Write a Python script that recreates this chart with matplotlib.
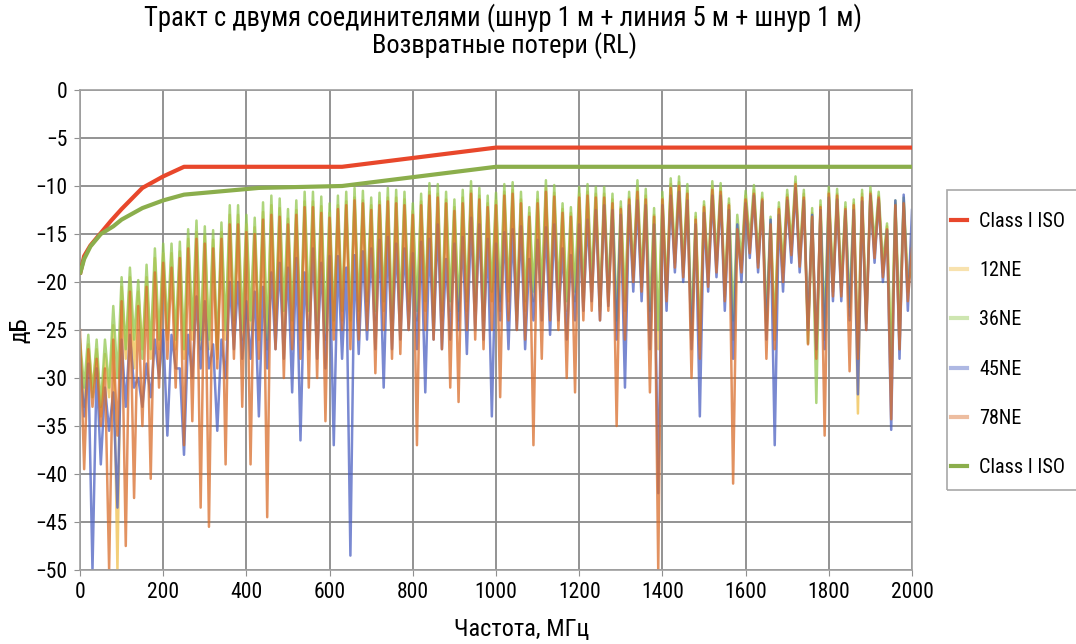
import numpy as np
import matplotlib
matplotlib.use("Agg")
import matplotlib.pyplot as plt
from matplotlib import font_manager
from matplotlib.patches import Rectangle

# condensed face if present, otherwise Roboto
names = {f.name for f in font_manager.fontManager.ttflist}
narrow = [n for n in ['Liberation Sans Narrow', 'Roboto Condensed', 'DejaVu Sans Condensed', 'Roboto'] if n in names]
plt.rcParams['font.family'] = narrow[:1] + ['DejaVu Sans']

# frequency sampling of the sweep, MHz
freq = np.arange(0, 2001, 10)

# Class I ISO limit lines (MHz, dB)
limit_red_f = [1, 10, 25, 50, 75, 100, 150, 200, 250, 630, 1000, 2000]
limit_red_db = [-19, -17.3, -16.2, -14.9, -13.6, -12.4, -10.2, -9.0, -8.0, -8.0, -6.0, -6.0]
limit_green_f = [1, 10, 25, 50, 80, 100, 150, 200, 250, 430, 630, 1000, 2000]
limit_green_db = [-19, -17.6, -16.3, -15.0, -14.2, -13.5, -12.3, -11.5, -10.9, -10.2, -10.0, -8.0, -8.0]

# return loss of the four pairs, dB (one value per 10 MHz)
rl_12ne = [
    -26.5, -33, -26.5, -31, -27, -34, -27.5, -32, -24.5, -50,
    -20.5, -28, -19.5, -29, -21, -27, -19.5, -28, -17.5, -27,
    -17, -26, -17, -27, -16.8, -28, -15.5, -26, -14.8, -27,
    -15.2, -27, -15.6, -28, -14.8, -26, -13, -25, -13, -26,
    -14, -25, -14.3, -26, -12.7, -27, -12, -25, -12.3, -25,
    -13.4, -25, -12.5, -26, -11.6, -24, -11.6, -25, -12.1, -26,
    -12.8, -25, -12, -24, -11.6, -25, -11.2, -24, -11.5, -23,
    -12, -24, -11.6, -23, -11.2, -25, -11.2, -24, -11.4, -23,
    -12.6, -24, -11.6, -23, -10.6, -25, -10.8, -24, -11.4, -23,
    -12.2, -24, -11.2, -23, -10.5, -23, -11, -24, -11.8, -22,
    -11.5, -23, -10.6, -22, -10.4, -24, -11.4, -23, -12.8, -22,
    -11.4, -22, -10.2, -23, -10.7, -22, -12.4, -23, -12.8, -22,
    -10.8, -22, -10.6, -21, -10.8, -23, -10.8, -22, -11.4, -25,
    -12.2, -23, -11.2, -19.5, -10.2, -20.5, -11, -25, -13, -27,
    -11.2, -21.5, -9.8, -18, -9.6, -19, -10.5, -26, -13.2, -27,
    -12, -19.8, -10, -18.5, -10.2, -21.5, -11.8, -26, -15.6, -18.5,
    -11, -16.5, -10.4, -18, -11.2, -25, -13.8, -26, -12.2, -19,
    -10.9, -16.8, -9.6, -18, -10.8, -25, -12.8, -27, -12, -26,
    -10.6, -21, -10.8, -21, -12.2, -23.5, -11.8, -33.7, -10.8, -24,
    -10.6, -17, -11, -19, -14.2, -29, -11.8, -27, -11.6, -21,
    -15,
]
rl_36ne = [
    -26, -31, -25.5, -32, -26, -33, -26, -31, -22.5, -30,
    -19.5, -27, -18.5, -26, -19.8, -28, -18.2, -27, -16.5, -26,
    -16, -25, -16, -26, -15.8, -27, -14.5, -25, -13.6, -26,
    -14.2, -26, -14.6, -27, -13.8, -25, -12, -24, -12, -25,
    -13, -24, -13.3, -25, -11.7, -26, -11, -24, -11.3, -23,
    -12.4, -24, -11.5, -25, -10.6, -23, -10.6, -24, -11.1, -25,
    -11.8, -24, -11, -23, -10.6, -24, -10.2, -23, -10.5, -22,
    -11.2, -23, -10.7, -22, -10.2, -24, -10.4, -23, -10.6, -22,
    -11.8, -23, -10.8, -22, -9.7, -24, -9.8, -23, -10.6, -22,
    -11.4, -23, -10.4, -22, -9.5, -22, -10.2, -23, -11, -21,
    -10.7, -22, -9.8, -21, -9.6, -23, -10.6, -22, -12.2, -21,
    -10.6, -21, -9.4, -22, -9.9, -21, -11.8, -22, -12.2, -21,
    -10.1, -21, -9.8, -20, -10.1, -22.5, -10.1, -21, -10.8, -24,
    -11.6, -22, -10.6, -18.8, -9.4, -19.5, -10.3, -23, -12.3, -25,
    -10.6, -20.8, -9.2, -17, -9, -18.4, -9.8, -25, -12.8, -26,
    -11.6, -19, -9.5, -17.7, -9.7, -20.8, -11.3, -24, -13, -17.7,
    -10.5, -15.6, -9.9, -17.4, -10.7, -24, -13.2, -25, -11.7, -18.4,
    -10.4, -16, -9, -17.4, -10.4, -26.4, -12.3, -32.6, -11.5, -25,
    -10.1, -20.1, -10.3, -20, -11.7, -22.6, -11.4, -27, -10.4, -24.3,
    -10.1, -16, -10.6, -18.1, -13.9, -28, -11.5, -24, -11.2, -20,
    -18.8,
]
rl_45ne = [
    -28, -34, -28.5, -50, -29, -39, -31, -35.5, -31.5, -43.5,
    -26, -33, -25.5, -31, -30, -33, -28.5, -32, -26, -30,
    -25, -36, -25.5, -29, -29, -38, -25.5, -30, -21.5, -29,
    -22, -29, -26.5, -35.5, -26, -30, -20, -27, -20, -28,
    -22, -28, -21, -34, -20.5, -29, -19, -27, -18, -28,
    -18.5, -31.5, -17.5, -36.5, -19, -27, -16.5, -28, -18, -29,
    -17.3, -37, -17.3, -28, -18.5, -48.5, -17.2, -27.5, -16.8, -26,
    -16.5, -27, -15.6, -31, -15.3, -27, -16, -26, -16.5, -25,
    -17, -27, -15.8, -31.5, -15.5, -26, -14, -27, -17.6, -26,
    -16, -25, -15.3, -27.5, -13.3, -25, -14, -26, -15.5, -34,
    -16, -24, -14.8, -27, -14.5, -25, -14.2, -27, -17.6, -24,
    -15.6, -24, -14.3, -25.5, -14, -24, -16.5, -26, -17.2, -24,
    -14, -23, -13.5, -22, -12.5, -24, -12, -22.5, -12.5, -26,
    -13, -31, -12, -21, -11.5, -22, -12, -27, -14, -42,
    -12, -23, -11, -19, -10.6, -20, -11.5, -27, -14, -34,
    -12.8, -21, -11, -19.5, -11, -23, -12.5, -28, -14, -20,
    -11.8, -17.5, -11, -19, -11.6, -26, -13.5, -37, -13, -21,
    -11.5, -18, -10.2, -19, -11.5, -25, -13, -27, -12.5, -27,
    -11.2, -22, -11.4, -22, -12.6, -24, -12.5, -31.7, -11.6, -25,
    -11, -18, -11.4, -20, -14.6, -35.4, -11.5, -28, -10.9, -23,
    -12.5,
]
rl_78ne = [
    -25, -39.5, -27, -33, -28, -35, -29, -50, -26, -36,
    -22, -47.5, -21, -42.5, -22.5, -35, -20.5, -40.5, -19, -31,
    -18, -28, -18.5, -31, -17.5, -37, -16.5, -34.5, -15.5, -43.5,
    -16, -45.5, -16.5, -29, -15.5, -39, -14, -28, -14, -33,
    -14.8, -39, -15, -28, -13.5, -44.5, -13, -27, -13.2, -30,
    -14, -27, -13, -28, -12.2, -31, -12.2, -30, -12.8, -34.5,
    -13.3, -26, -12.4, -25, -12, -27, -11.5, -26, -11.8, -25,
    -12.5, -29.5, -12, -25, -11.6, -28, -11.8, -27.5, -12, -25,
    -13, -37, -12, -25, -11, -26, -11.2, -27, -11.8, -31,
    -12.6, -32.5, -11.8, -25, -10.8, -26, -11.4, -27, -12.2, -25,
    -12, -32, -11, -24, -10.8, -25, -11.8, -26, -13.2, -37,
    -11.8, -28, -10.6, -24, -11.1, -25, -12.8, -30, -13.2, -31.5,
    -11.2, -24, -11, -23, -11.2, -24, -11.2, -23, -11.8, -35,
    -12.4, -26, -11.4, -20, -10.6, -21, -11.4, -31.5, -13.2, -50,
    -11.4, -22, -10.2, -18.5, -10, -19.5, -10.8, -30, -13.5, -28,
    -12.2, -20.5, -10.4, -19, -10.6, -22, -12, -41, -14.5, -19,
    -11.4, -17, -10.8, -18.5, -11.4, -28, -14, -27, -12.4, -20,
    -11.2, -17.2, -9.8, -18.4, -11.2, -26.5, -13.2, -28, -12.2, -36,
    -10.8, -21.5, -11, -21.5, -12.4, -29.3, -12, -28, -11.2, -25,
    -10.8, -17.5, -11.2, -19.5, -14.5, -34.3, -12, -27, -11.8, -22,
    -16.5,
]

series = [
    ('12NE', rl_12ne, '#F0BF4C'),
    ('36NE', rl_36ne, '#93C852'),
    ('45NE', rl_45ne, '#4D62C2'),
    ('78NE', rl_78ne, '#D96E2C'),
]

W, H = 1076, 644
fig = plt.figure(figsize=(W / 100, H / 100), dpi=100)
ax = fig.add_axes([80 / W, 1 - 570 / H, 832 / W, 480 / H])

ax.plot(limit_red_f, limit_red_db, color='#E8472B', lw=3, label='Class I ISO', zorder=4)
for name, vals, col in series:
    ax.plot(freq, vals, color=col, lw=1.8, alpha=0.75, label=name, zorder=2)
ax.plot(limit_green_f, limit_green_db, color='#8BAE4C', lw=3, label='Class I ISO', zorder=4)

ax.set_xlim(0, 2000)
ax.set_ylim(-50, 0)
ax.set_xticks(np.arange(0, 2001, 200))
ax.set_yticks(np.arange(-50, 1, 5))
ax.grid(True, color='#8a8a8a', lw=1.3, zorder=0)
ax.set_axisbelow(True)
for s in ax.spines.values():
    s.set_color('#a0a0a0')
    s.set_linewidth(1.2)
ax.tick_params(labelsize=15.5, length=4, color='#909090', pad=5)

# legend outside on the right, frame drawn separately
leg = fig.legend(*ax.get_legend_handles_labels(), loc='upper left',
                 bbox_to_anchor=(951 / W, 1 - 212 / H), fontsize=14.5,
                 frameon=False, handlelength=0.8, handletextpad=0.6,
                 labelspacing=1.5, borderpad=0, borderaxespad=0)
for i, h in enumerate(leg.get_lines()):
    h.set_linewidth(3)
    if 0 < i < 5:
        h.set_alpha(0.45)
fig.patches.append(Rectangle((947 / W, 1 - 490 / H), 140 / W, 300 / H,
                             transform=fig.transFigure, fill=False,
                             edgecolor='#a8a8a8', lw=1.2))

fig.text(503 / W, 1 - 18 / H, 'Тракт с двумя соединителями (шнур 1 м + линия 5 м + шнур 1 м)',
         ha='center', va='center', fontsize=19.2)
fig.text(505 / W, 1 - 46 / H, 'Возвратные потери (RL)',
         ha='center', va='center', fontsize=19)
fig.text(20 / W, 1 - 330 / H, 'дБ', rotation=90, ha='center', va='center', fontsize=17)
fig.text(522 / W, 1 - 630 / H, 'Частота, МГц', ha='center', va='center', fontsize=17.5)

fig.savefig('out.png', dpi=100)
